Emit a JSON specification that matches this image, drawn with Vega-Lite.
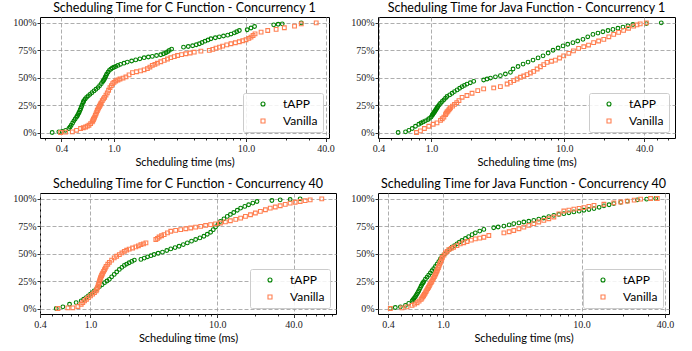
{
"$schema": "https://vega.github.io/schema/vega-lite/v6.json",
"padding": {"left": 12, "top": 1, "right": 0, "bottom": 0},
"bounds": "full",
"spacing": 9,
"datasets": {"d": [
{"p":1,"s":"tAPP","x":0.34,"y":0},{"p":1,"s":"tAPP","x":0.382,"y":0.006},{"p":1,"s":"tAPP","x":0.405,"y":0.01},{"p":1,"s":"tAPP","x":0.43,"y":0.02},{"p":1,"s":"tAPP","x":0.455,"y":0.036},{"p":1,"s":"tAPP","x":0.465,"y":0.05},{"p":1,"s":"tAPP","x":0.474,"y":0.066},{"p":1,"s":"tAPP","x":0.486,"y":0.086},{"p":1,"s":"tAPP","x":0.497,"y":0.106},{"p":1,"s":"tAPP","x":0.508,"y":0.123},{"p":1,"s":"tAPP","x":0.52,"y":0.14},{"p":1,"s":"tAPP","x":0.533,"y":0.163},{"p":1,"s":"tAPP","x":0.546,"y":0.187},{"p":1,"s":"tAPP","x":0.559,"y":0.217},{"p":1,"s":"tAPP","x":0.572,"y":0.248},{"p":1,"s":"tAPP","x":0.582,"y":0.27},{"p":1,"s":"tAPP","x":0.592,"y":0.29},{"p":1,"s":"tAPP","x":0.605,"y":0.305},{"p":1,"s":"tAPP","x":0.62,"y":0.32},{"p":1,"s":"tAPP","x":0.638,"y":0.333},{"p":1,"s":"tAPP","x":0.658,"y":0.347},{"p":1,"s":"tAPP","x":0.68,"y":0.362},{"p":1,"s":"tAPP","x":0.705,"y":0.378},{"p":1,"s":"tAPP","x":0.73,"y":0.393},{"p":1,"s":"tAPP","x":0.756,"y":0.408},{"p":1,"s":"tAPP","x":0.778,"y":0.426},{"p":1,"s":"tAPP","x":0.801,"y":0.444},{"p":1,"s":"tAPP","x":0.82,"y":0.462},{"p":1,"s":"tAPP","x":0.84,"y":0.48},{"p":1,"s":"tAPP","x":0.86,"y":0.505},{"p":1,"s":"tAPP","x":0.88,"y":0.53},{"p":1,"s":"tAPP","x":0.9,"y":0.548},{"p":1,"s":"tAPP","x":0.922,"y":0.565},{"p":1,"s":"tAPP","x":0.945,"y":0.576},{"p":1,"s":"tAPP","x":0.971,"y":0.586},{"p":1,"s":"tAPP","x":1.0,"y":0.593},{"p":1,"s":"tAPP","x":1.03,"y":0.6},{"p":1,"s":"tAPP","x":1.07,"y":0.61},{"p":1,"s":"tAPP","x":1.12,"y":0.62},{"p":1,"s":"tAPP","x":1.19,"y":0.63},{"p":1,"s":"tAPP","x":1.26,"y":0.64},{"p":1,"s":"tAPP","x":1.36,"y":0.65},{"p":1,"s":"tAPP","x":1.46,"y":0.66},{"p":1,"s":"tAPP","x":1.57,"y":0.67},{"p":1,"s":"tAPP","x":1.69,"y":0.68},{"p":1,"s":"tAPP","x":1.82,"y":0.686},{"p":1,"s":"tAPP","x":1.95,"y":0.692},{"p":1,"s":"tAPP","x":2.1,"y":0.70},{"p":1,"s":"tAPP","x":2.26,"y":0.707},{"p":1,"s":"tAPP","x":2.37,"y":0.716},{"p":1,"s":"tAPP","x":2.47,"y":0.725},{"p":1,"s":"tAPP","x":2.55,"y":0.735},{"p":1,"s":"tAPP","x":2.62,"y":0.746},{"p":1,"s":"tAPP","x":2.73,"y":0.758},{"p":1,"s":"tAPP","x":3.36,"y":0.776},{"p":1,"s":"tAPP","x":3.65,"y":0.782},{"p":1,"s":"tAPP","x":3.94,"y":0.789},{"p":1,"s":"tAPP","x":4.2,"y":0.798},{"p":1,"s":"tAPP","x":4.43,"y":0.807},{"p":1,"s":"tAPP","x":4.65,"y":0.818},{"p":1,"s":"tAPP","x":4.89,"y":0.83},{"p":1,"s":"tAPP","x":5.15,"y":0.841},{"p":1,"s":"tAPP","x":5.42,"y":0.852},{"p":1,"s":"tAPP","x":5.85,"y":0.861},{"p":1,"s":"tAPP","x":6.27,"y":0.87},{"p":1,"s":"tAPP","x":6.75,"y":0.877},{"p":1,"s":"tAPP","x":7.26,"y":0.885},{"p":1,"s":"tAPP","x":7.7,"y":0.895},{"p":1,"s":"tAPP","x":8.15,"y":0.906},{"p":1,"s":"tAPP","x":8.5,"y":0.916},{"p":1,"s":"tAPP","x":8.9,"y":0.927},{"p":1,"s":"tAPP","x":10.2,"y":0.934},{"p":1,"s":"tAPP","x":10.9,"y":0.95},{"p":1,"s":"tAPP","x":11.6,"y":0.964},{"p":1,"s":"tAPP","x":16.2,"y":0.979},{"p":1,"s":"tAPP","x":17.5,"y":0.984},{"p":1,"s":"tAPP","x":18.8,"y":0.988},{"p":1,"s":"tAPP","x":26.2,"y":0.996},
{"p":1,"s":"tAPP","x":0.527,"y":0.151},{"p":1,"s":"tAPP","x":0.54,"y":0.175},{"p":1,"s":"tAPP","x":0.553,"y":0.202},{"p":1,"s":"tAPP","x":0.566,"y":0.232},{"p":1,"s":"tAPP","x":0.587,"y":0.28},{"p":1,"s":"tAPP","x":0.83,"y":0.471},{"p":1,"s":"tAPP","x":0.85,"y":0.492},{"p":1,"s":"tAPP","x":0.87,"y":0.517},
{"p":1,"s":"Vanilla","x":0.394,"y":0},{"p":1,"s":"Vanilla","x":0.43,"y":0.003},{"p":1,"s":"Vanilla","x":0.483,"y":0.006},{"p":1,"s":"Vanilla","x":0.52,"y":0.02},{"p":1,"s":"Vanilla","x":0.558,"y":0.036},{"p":1,"s":"Vanilla","x":0.585,"y":0.043},{"p":1,"s":"Vanilla","x":0.609,"y":0.05},{"p":1,"s":"Vanilla","x":0.628,"y":0.058},{"p":1,"s":"Vanilla","x":0.646,"y":0.066},{"p":1,"s":"Vanilla","x":0.665,"y":0.08},{"p":1,"s":"Vanilla","x":0.684,"y":0.097},{"p":1,"s":"Vanilla","x":0.698,"y":0.118},{"p":1,"s":"Vanilla","x":0.713,"y":0.14},{"p":1,"s":"Vanilla","x":0.73,"y":0.17},{"p":1,"s":"Vanilla","x":0.747,"y":0.20},{"p":1,"s":"Vanilla","x":0.765,"y":0.224},{"p":1,"s":"Vanilla","x":0.783,"y":0.248},{"p":1,"s":"Vanilla","x":0.8,"y":0.27},{"p":1,"s":"Vanilla","x":0.815,"y":0.29},{"p":1,"s":"Vanilla","x":0.832,"y":0.305},{"p":1,"s":"Vanilla","x":0.849,"y":0.32},{"p":1,"s":"Vanilla","x":0.869,"y":0.34},{"p":1,"s":"Vanilla","x":0.889,"y":0.36},{"p":1,"s":"Vanilla","x":0.91,"y":0.384},{"p":1,"s":"Vanilla","x":0.932,"y":0.408},{"p":1,"s":"Vanilla","x":0.955,"y":0.426},{"p":1,"s":"Vanilla","x":0.977,"y":0.444},{"p":1,"s":"Vanilla","x":1.0,"y":0.456},{"p":1,"s":"Vanilla","x":1.03,"y":0.468},{"p":1,"s":"Vanilla","x":1.07,"y":0.477},{"p":1,"s":"Vanilla","x":1.11,"y":0.486},{"p":1,"s":"Vanilla","x":1.17,"y":0.495},{"p":1,"s":"Vanilla","x":1.23,"y":0.505},{"p":1,"s":"Vanilla","x":1.3,"y":0.524},{"p":1,"s":"Vanilla","x":1.38,"y":0.544},{"p":1,"s":"Vanilla","x":1.48,"y":0.552},{"p":1,"s":"Vanilla","x":1.59,"y":0.56},{"p":1,"s":"Vanilla","x":1.69,"y":0.57},{"p":1,"s":"Vanilla","x":1.79,"y":0.58},{"p":1,"s":"Vanilla","x":1.87,"y":0.595},{"p":1,"s":"Vanilla","x":1.95,"y":0.61},{"p":1,"s":"Vanilla","x":2.04,"y":0.62},{"p":1,"s":"Vanilla","x":2.13,"y":0.63},{"p":1,"s":"Vanilla","x":2.26,"y":0.643},{"p":1,"s":"Vanilla","x":2.4,"y":0.656},{"p":1,"s":"Vanilla","x":2.54,"y":0.668},{"p":1,"s":"Vanilla","x":2.69,"y":0.68},{"p":1,"s":"Vanilla","x":2.86,"y":0.69},{"p":1,"s":"Vanilla","x":3.03,"y":0.70},{"p":1,"s":"Vanilla","x":3.25,"y":0.708},{"p":1,"s":"Vanilla","x":3.5,"y":0.716},{"p":1,"s":"Vanilla","x":3.77,"y":0.723},{"p":1,"s":"Vanilla","x":4.05,"y":0.73},{"p":1,"s":"Vanilla","x":4.55,"y":0.74},{"p":1,"s":"Vanilla","x":5.27,"y":0.746},{"p":1,"s":"Vanilla","x":5.6,"y":0.756},{"p":1,"s":"Vanilla","x":5.92,"y":0.767},{"p":1,"s":"Vanilla","x":6.3,"y":0.776},{"p":1,"s":"Vanilla","x":6.65,"y":0.785},{"p":1,"s":"Vanilla","x":7.15,"y":0.796},{"p":1,"s":"Vanilla","x":7.69,"y":0.807},{"p":1,"s":"Vanilla","x":8.3,"y":0.816},{"p":1,"s":"Vanilla","x":8.9,"y":0.825},{"p":1,"s":"Vanilla","x":9.45,"y":0.834},{"p":1,"s":"Vanilla","x":10.0,"y":0.843},{"p":1,"s":"Vanilla","x":10.5,"y":0.855},{"p":1,"s":"Vanilla","x":10.9,"y":0.867},{"p":1,"s":"Vanilla","x":11.3,"y":0.882},{"p":1,"s":"Vanilla","x":11.7,"y":0.897},{"p":1,"s":"Vanilla","x":13.0,"y":0.912},{"p":1,"s":"Vanilla","x":14.6,"y":0.927},{"p":1,"s":"Vanilla","x":16.9,"y":0.937},{"p":1,"s":"Vanilla","x":19.5,"y":0.952},{"p":1,"s":"Vanilla","x":23.3,"y":0.967},{"p":1,"s":"Vanilla","x":26.2,"y":0.988},{"p":1,"s":"Vanilla","x":34.0,"y":0.996},
{"p":1,"s":"Vanilla","x":0.691,"y":0.107},{"p":1,"s":"Vanilla","x":0.705,"y":0.129},{"p":1,"s":"Vanilla","x":0.722,"y":0.155},{"p":1,"s":"Vanilla","x":0.739,"y":0.185},{"p":1,"s":"Vanilla","x":0.756,"y":0.212},{"p":1,"s":"Vanilla","x":0.774,"y":0.236},{"p":1,"s":"Vanilla","x":0.792,"y":0.259},
{"p":2,"s":"tAPP","x":0.561,"y":0},{"p":2,"s":"tAPP","x":0.638,"y":0.006},{"p":2,"s":"tAPP","x":0.676,"y":0.02},{"p":2,"s":"tAPP","x":0.716,"y":0.036},{"p":2,"s":"tAPP","x":0.758,"y":0.057},{"p":2,"s":"tAPP","x":0.803,"y":0.075},{"p":2,"s":"tAPP","x":0.835,"y":0.086},{"p":2,"s":"tAPP","x":0.866,"y":0.096},{"p":2,"s":"tAPP","x":0.9,"y":0.106},{"p":2,"s":"tAPP","x":0.938,"y":0.117},{"p":2,"s":"tAPP","x":0.965,"y":0.128},{"p":2,"s":"tAPP","x":0.994,"y":0.14},{"p":2,"s":"tAPP","x":1.01,"y":0.155},{"p":2,"s":"tAPP","x":1.03,"y":0.17},{"p":2,"s":"tAPP","x":1.05,"y":0.185},{"p":2,"s":"tAPP","x":1.07,"y":0.20},{"p":2,"s":"tAPP","x":1.095,"y":0.218},{"p":2,"s":"tAPP","x":1.12,"y":0.237},{"p":2,"s":"tAPP","x":1.145,"y":0.252},{"p":2,"s":"tAPP","x":1.17,"y":0.267},{"p":2,"s":"tAPP","x":1.205,"y":0.282},{"p":2,"s":"tAPP","x":1.24,"y":0.297},{"p":2,"s":"tAPP","x":1.275,"y":0.312},{"p":2,"s":"tAPP","x":1.31,"y":0.327},{"p":2,"s":"tAPP","x":1.37,"y":0.342},{"p":2,"s":"tAPP","x":1.43,"y":0.357},{"p":2,"s":"tAPP","x":1.49,"y":0.372},{"p":2,"s":"tAPP","x":1.56,"y":0.387},{"p":2,"s":"tAPP","x":1.63,"y":0.402},{"p":2,"s":"tAPP","x":1.7,"y":0.417},{"p":2,"s":"tAPP","x":1.77,"y":0.428},{"p":2,"s":"tAPP","x":1.85,"y":0.44},{"p":2,"s":"tAPP","x":1.96,"y":0.452},{"p":2,"s":"tAPP","x":2.08,"y":0.465},{"p":2,"s":"tAPP","x":2.47,"y":0.477},{"p":2,"s":"tAPP","x":2.62,"y":0.486},{"p":2,"s":"tAPP","x":2.78,"y":0.495},{"p":2,"s":"tAPP","x":3.03,"y":0.506},{"p":2,"s":"tAPP","x":3.3,"y":0.517},{"p":2,"s":"tAPP","x":3.6,"y":0.532},{"p":2,"s":"tAPP","x":3.93,"y":0.547},{"p":2,"s":"tAPP","x":4.11,"y":0.577},{"p":2,"s":"tAPP","x":4.48,"y":0.60},{"p":2,"s":"tAPP","x":4.89,"y":0.622},{"p":2,"s":"tAPP","x":5.33,"y":0.64},{"p":2,"s":"tAPP","x":5.81,"y":0.658},{"p":2,"s":"tAPP","x":6.34,"y":0.678},{"p":2,"s":"tAPP","x":6.91,"y":0.697},{"p":2,"s":"tAPP","x":7.55,"y":0.723},{"p":2,"s":"tAPP","x":8.22,"y":0.748},{"p":2,"s":"tAPP","x":8.97,"y":0.768},{"p":2,"s":"tAPP","x":9.77,"y":0.787},{"p":2,"s":"tAPP","x":10.6,"y":0.802},{"p":2,"s":"tAPP","x":11.6,"y":0.817},{"p":2,"s":"tAPP","x":12.6,"y":0.832},{"p":2,"s":"tAPP","x":13.8,"y":0.847},{"p":2,"s":"tAPP","x":15.0,"y":0.87},{"p":2,"s":"tAPP","x":16.4,"y":0.892},{"p":2,"s":"tAPP","x":17.9,"y":0.904},{"p":2,"s":"tAPP","x":19.5,"y":0.916},{"p":2,"s":"tAPP","x":21.3,"y":0.927},{"p":2,"s":"tAPP","x":23.2,"y":0.937},{"p":2,"s":"tAPP","x":25.3,"y":0.948},{"p":2,"s":"tAPP","x":27.6,"y":0.958},{"p":2,"s":"tAPP","x":30.1,"y":0.97},{"p":2,"s":"tAPP","x":32.8,"y":0.982},{"p":2,"s":"tAPP","x":41.4,"y":0.99},{"p":2,"s":"tAPP","x":53.6,"y":0.997},
{"p":2,"s":"tAPP","x":1.02,"y":0.162},{"p":2,"s":"tAPP","x":1.04,"y":0.177},{"p":2,"s":"tAPP","x":1.06,"y":0.192},{"p":2,"s":"tAPP","x":1.083,"y":0.209},{"p":2,"s":"tAPP","x":1.107,"y":0.227},
{"p":2,"s":"Vanilla","x":0.771,"y":0},{"p":2,"s":"Vanilla","x":0.826,"y":0.015},{"p":2,"s":"Vanilla","x":0.885,"y":0.036},{"p":2,"s":"Vanilla","x":0.955,"y":0.057},{"p":2,"s":"Vanilla","x":1.03,"y":0.075},{"p":2,"s":"Vanilla","x":1.1,"y":0.087},{"p":2,"s":"Vanilla","x":1.17,"y":0.11},{"p":2,"s":"Vanilla","x":1.205,"y":0.125},{"p":2,"s":"Vanilla","x":1.24,"y":0.14},{"p":2,"s":"Vanilla","x":1.275,"y":0.163},{"p":2,"s":"Vanilla","x":1.31,"y":0.186},{"p":2,"s":"Vanilla","x":1.35,"y":0.205},{"p":2,"s":"Vanilla","x":1.39,"y":0.225},{"p":2,"s":"Vanilla","x":1.44,"y":0.24},{"p":2,"s":"Vanilla","x":1.49,"y":0.255},{"p":2,"s":"Vanilla","x":1.55,"y":0.272},{"p":2,"s":"Vanilla","x":1.61,"y":0.29},{"p":2,"s":"Vanilla","x":1.7,"y":0.32},{"p":2,"s":"Vanilla","x":1.85,"y":0.336},{"p":2,"s":"Vanilla","x":2.02,"y":0.357},{"p":2,"s":"Vanilla","x":2.23,"y":0.381},{"p":2,"s":"Vanilla","x":2.47,"y":0.396},{"p":2,"s":"Vanilla","x":2.94,"y":0.405},{"p":2,"s":"Vanilla","x":3.3,"y":0.417},{"p":2,"s":"Vanilla","x":3.71,"y":0.441},{"p":2,"s":"Vanilla","x":3.93,"y":0.456},{"p":2,"s":"Vanilla","x":4.16,"y":0.471},{"p":2,"s":"Vanilla","x":4.41,"y":0.486},{"p":2,"s":"Vanilla","x":4.67,"y":0.502},{"p":2,"s":"Vanilla","x":4.95,"y":0.514},{"p":2,"s":"Vanilla","x":5.24,"y":0.526},{"p":2,"s":"Vanilla","x":5.55,"y":0.541},{"p":2,"s":"Vanilla","x":5.88,"y":0.556},{"p":2,"s":"Vanilla","x":6.24,"y":0.577},{"p":2,"s":"Vanilla","x":6.6,"y":0.598},{"p":2,"s":"Vanilla","x":7.0,"y":0.617},{"p":2,"s":"Vanilla","x":7.41,"y":0.637},{"p":2,"s":"Vanilla","x":8.0,"y":0.648},{"p":2,"s":"Vanilla","x":8.56,"y":0.658},{"p":2,"s":"Vanilla","x":9.2,"y":0.677},{"p":2,"s":"Vanilla","x":9.89,"y":0.697},{"p":2,"s":"Vanilla","x":10.8,"y":0.72},{"p":2,"s":"Vanilla","x":11.7,"y":0.742},{"p":2,"s":"Vanilla","x":12.8,"y":0.765},{"p":2,"s":"Vanilla","x":14.0,"y":0.78},{"p":2,"s":"Vanilla","x":15.2,"y":0.795},{"p":2,"s":"Vanilla","x":16.6,"y":0.817},{"p":2,"s":"Vanilla","x":18.1,"y":0.832},{"p":2,"s":"Vanilla","x":19.8,"y":0.847},{"p":2,"s":"Vanilla","x":21.6,"y":0.87},{"p":2,"s":"Vanilla","x":23.5,"y":0.892},{"p":2,"s":"Vanilla","x":25.6,"y":0.91},{"p":2,"s":"Vanilla","x":27.9,"y":0.928},{"p":2,"s":"Vanilla","x":30.4,"y":0.948},{"p":2,"s":"Vanilla","x":33.2,"y":0.967},{"p":2,"s":"Vanilla","x":35.2,"y":0.978},{"p":2,"s":"Vanilla","x":37.2,"y":0.988},{"p":2,"s":"Vanilla","x":41.4,"y":0.997},
{"p":2,"s":"Vanilla","x":1.29,"y":0.175},{"p":2,"s":"Vanilla","x":1.33,"y":0.195},{"p":2,"s":"Vanilla","x":1.37,"y":0.215},
{"p":3,"s":"tAPP","x":0.537,"y":0},{"p":3,"s":"tAPP","x":0.606,"y":0.015},{"p":3,"s":"tAPP","x":0.684,"y":0.039},{"p":3,"s":"tAPP","x":0.771,"y":0.054},{"p":3,"s":"tAPP","x":0.845,"y":0.069},{"p":3,"s":"tAPP","x":0.885,"y":0.084},{"p":3,"s":"tAPP","x":0.925,"y":0.099},{"p":3,"s":"tAPP","x":0.962,"y":0.115},{"p":3,"s":"tAPP","x":1.0,"y":0.13},{"p":3,"s":"tAPP","x":1.035,"y":0.145},{"p":3,"s":"tAPP","x":1.07,"y":0.16},{"p":3,"s":"tAPP","x":1.12,"y":0.18},{"p":3,"s":"tAPP","x":1.18,"y":0.199},{"p":3,"s":"tAPP","x":1.235,"y":0.217},{"p":3,"s":"tAPP","x":1.29,"y":0.235},{"p":3,"s":"tAPP","x":1.35,"y":0.25},{"p":3,"s":"tAPP","x":1.41,"y":0.265},{"p":3,"s":"tAPP","x":1.47,"y":0.288},{"p":3,"s":"tAPP","x":1.54,"y":0.31},{"p":3,"s":"tAPP","x":1.61,"y":0.332},{"p":3,"s":"tAPP","x":1.69,"y":0.355},{"p":3,"s":"tAPP","x":1.77,"y":0.374},{"p":3,"s":"tAPP","x":1.85,"y":0.392},{"p":3,"s":"tAPP","x":1.93,"y":0.404},{"p":3,"s":"tAPP","x":2.02,"y":0.416},{"p":3,"s":"tAPP","x":2.12,"y":0.428},{"p":3,"s":"tAPP","x":2.22,"y":0.44},{"p":3,"s":"tAPP","x":2.5,"y":0.446},{"p":3,"s":"tAPP","x":2.66,"y":0.458},{"p":3,"s":"tAPP","x":2.82,"y":0.47},{"p":3,"s":"tAPP","x":3.0,"y":0.48},{"p":3,"s":"tAPP","x":3.18,"y":0.491},{"p":3,"s":"tAPP","x":3.42,"y":0.502},{"p":3,"s":"tAPP","x":3.7,"y":0.512},{"p":3,"s":"tAPP","x":4.0,"y":0.527},{"p":3,"s":"tAPP","x":4.3,"y":0.542},{"p":3,"s":"tAPP","x":4.65,"y":0.554},{"p":3,"s":"tAPP","x":5.0,"y":0.566},{"p":3,"s":"tAPP","x":5.4,"y":0.581},{"p":3,"s":"tAPP","x":5.81,"y":0.596},{"p":3,"s":"tAPP","x":6.27,"y":0.612},{"p":3,"s":"tAPP","x":6.76,"y":0.627},{"p":3,"s":"tAPP","x":7.3,"y":0.642},{"p":3,"s":"tAPP","x":7.85,"y":0.657},{"p":3,"s":"tAPP","x":8.35,"y":0.675},{"p":3,"s":"tAPP","x":8.87,"y":0.693},{"p":3,"s":"tAPP","x":9.3,"y":0.717},{"p":3,"s":"tAPP","x":9.7,"y":0.741},{"p":3,"s":"tAPP","x":10.15,"y":0.766},{"p":3,"s":"tAPP","x":10.6,"y":0.792},{"p":3,"s":"tAPP","x":11.3,"y":0.815},{"p":3,"s":"tAPP","x":12.0,"y":0.837},{"p":3,"s":"tAPP","x":12.7,"y":0.855},{"p":3,"s":"tAPP","x":13.5,"y":0.873},{"p":3,"s":"tAPP","x":14.4,"y":0.893},{"p":3,"s":"tAPP","x":15.3,"y":0.913},{"p":3,"s":"tAPP","x":16.5,"y":0.928},{"p":3,"s":"tAPP","x":17.7,"y":0.943},{"p":3,"s":"tAPP","x":19.1,"y":0.958},{"p":3,"s":"tAPP","x":20.6,"y":0.973},{"p":3,"s":"tAPP","x":27.0,"y":0.982},{"p":3,"s":"tAPP","x":31.4,"y":0.988},{"p":3,"s":"tAPP","x":37.6,"y":0.991},{"p":3,"s":"tAPP","x":45.1,"y":0.997},
{"p":3,"s":"Vanilla","x":0.554,"y":0},{"p":3,"s":"Vanilla","x":0.664,"y":0.006},{"p":3,"s":"Vanilla","x":0.726,"y":0.006},{"p":3,"s":"Vanilla","x":0.796,"y":0.018},{"p":3,"s":"Vanilla","x":0.845,"y":0.039},{"p":3,"s":"Vanilla","x":0.87,"y":0.054},{"p":3,"s":"Vanilla","x":0.898,"y":0.069},{"p":3,"s":"Vanilla","x":0.93,"y":0.084},{"p":3,"s":"Vanilla","x":0.964,"y":0.099},{"p":3,"s":"Vanilla","x":1.0,"y":0.115},{"p":3,"s":"Vanilla","x":1.04,"y":0.13},{"p":3,"s":"Vanilla","x":1.075,"y":0.145},{"p":3,"s":"Vanilla","x":1.11,"y":0.16},{"p":3,"s":"Vanilla","x":1.135,"y":0.19},{"p":3,"s":"Vanilla","x":1.16,"y":0.22},{"p":3,"s":"Vanilla","x":1.18,"y":0.25},{"p":3,"s":"Vanilla","x":1.2,"y":0.277},{"p":3,"s":"Vanilla","x":1.225,"y":0.30},{"p":3,"s":"Vanilla","x":1.25,"y":0.322},{"p":3,"s":"Vanilla","x":1.29,"y":0.352},{"p":3,"s":"Vanilla","x":1.33,"y":0.383},{"p":3,"s":"Vanilla","x":1.37,"y":0.402},{"p":3,"s":"Vanilla","x":1.41,"y":0.42},{"p":3,"s":"Vanilla","x":1.47,"y":0.44},{"p":3,"s":"Vanilla","x":1.54,"y":0.46},{"p":3,"s":"Vanilla","x":1.61,"y":0.475},{"p":3,"s":"Vanilla","x":1.69,"y":0.49},{"p":3,"s":"Vanilla","x":1.77,"y":0.505},{"p":3,"s":"Vanilla","x":1.85,"y":0.52},{"p":3,"s":"Vanilla","x":1.93,"y":0.53},{"p":3,"s":"Vanilla","x":2.02,"y":0.54},{"p":3,"s":"Vanilla","x":2.15,"y":0.55},{"p":3,"s":"Vanilla","x":2.28,"y":0.56},{"p":3,"s":"Vanilla","x":2.39,"y":0.57},{"p":3,"s":"Vanilla","x":2.5,"y":0.58},{"p":3,"s":"Vanilla","x":2.62,"y":0.588},{"p":3,"s":"Vanilla","x":2.74,"y":0.596},{"p":3,"s":"Vanilla","x":3.28,"y":0.627},{"p":3,"s":"Vanilla","x":3.38,"y":0.638},{"p":3,"s":"Vanilla","x":3.48,"y":0.65},{"p":3,"s":"Vanilla","x":3.64,"y":0.661},{"p":3,"s":"Vanilla","x":3.81,"y":0.672},{"p":3,"s":"Vanilla","x":4.05,"y":0.687},{"p":3,"s":"Vanilla","x":4.3,"y":0.702},{"p":3,"s":"Vanilla","x":4.7,"y":0.71},{"p":3,"s":"Vanilla","x":5.15,"y":0.717},{"p":3,"s":"Vanilla","x":5.65,"y":0.725},{"p":3,"s":"Vanilla","x":6.18,"y":0.732},{"p":3,"s":"Vanilla","x":6.75,"y":0.74},{"p":3,"s":"Vanilla","x":7.4,"y":0.747},{"p":3,"s":"Vanilla","x":8.1,"y":0.755},{"p":3,"s":"Vanilla","x":8.87,"y":0.762},{"p":3,"s":"Vanilla","x":9.7,"y":0.77},{"p":3,"s":"Vanilla","x":10.6,"y":0.777},{"p":3,"s":"Vanilla","x":11.6,"y":0.787},{"p":3,"s":"Vanilla","x":12.7,"y":0.798},{"p":3,"s":"Vanilla","x":14.0,"y":0.81},{"p":3,"s":"Vanilla","x":15.3,"y":0.822},{"p":3,"s":"Vanilla","x":16.7,"y":0.837},{"p":3,"s":"Vanilla","x":18.3,"y":0.852},{"p":3,"s":"Vanilla","x":20.0,"y":0.868},{"p":3,"s":"Vanilla","x":21.9,"y":0.883},{"p":3,"s":"Vanilla","x":24.0,"y":0.898},{"p":3,"s":"Vanilla","x":26.2,"y":0.913},{"p":3,"s":"Vanilla","x":28.7,"y":0.923},{"p":3,"s":"Vanilla","x":31.4,"y":0.934},{"p":3,"s":"Vanilla","x":34.4,"y":0.946},{"p":3,"s":"Vanilla","x":37.6,"y":0.958},{"p":3,"s":"Vanilla","x":41.2,"y":0.966},{"p":3,"s":"Vanilla","x":45.1,"y":0.973},{"p":3,"s":"Vanilla","x":49.4,"y":0.981},{"p":3,"s":"Vanilla","x":54.1,"y":0.988},{"p":3,"s":"Vanilla","x":66.8,"y":0.997},
{"p":3,"s":"Vanilla","x":1.123,"y":0.175},{"p":3,"s":"Vanilla","x":1.148,"y":0.205},{"p":3,"s":"Vanilla","x":1.17,"y":0.235},{"p":3,"s":"Vanilla","x":1.19,"y":0.263},{"p":3,"s":"Vanilla","x":1.212,"y":0.288},{"p":3,"s":"Vanilla","x":1.237,"y":0.311},{"p":3,"s":"Vanilla","x":1.27,"y":0.337},{"p":3,"s":"Vanilla","x":1.31,"y":0.367},
{"p":4,"s":"tAPP","x":0.416,"y":0},{"p":4,"s":"tAPP","x":0.452,"y":0.009},{"p":4,"s":"tAPP","x":0.492,"y":0.015},{"p":4,"s":"tAPP","x":0.535,"y":0.028},{"p":4,"s":"tAPP","x":0.565,"y":0.046},{"p":4,"s":"tAPP","x":0.597,"y":0.067},{"p":4,"s":"tAPP","x":0.614,"y":0.087},{"p":4,"s":"tAPP","x":0.631,"y":0.107},{"p":4,"s":"tAPP","x":0.649,"y":0.133},{"p":4,"s":"tAPP","x":0.667,"y":0.159},{"p":4,"s":"tAPP","x":0.686,"y":0.19},{"p":4,"s":"tAPP","x":0.705,"y":0.22},{"p":4,"s":"tAPP","x":0.725,"y":0.243},{"p":4,"s":"tAPP","x":0.745,"y":0.266},{"p":4,"s":"tAPP","x":0.766,"y":0.285},{"p":4,"s":"tAPP","x":0.787,"y":0.303},{"p":4,"s":"tAPP","x":0.81,"y":0.323},{"p":4,"s":"tAPP","x":0.832,"y":0.343},{"p":4,"s":"tAPP","x":0.856,"y":0.363},{"p":4,"s":"tAPP","x":0.88,"y":0.382},{"p":4,"s":"tAPP","x":0.905,"y":0.404},{"p":4,"s":"tAPP","x":0.931,"y":0.425},{"p":4,"s":"tAPP","x":0.957,"y":0.45},{"p":4,"s":"tAPP","x":0.983,"y":0.474},{"p":4,"s":"tAPP","x":1.025,"y":0.495},{"p":4,"s":"tAPP","x":1.07,"y":0.517},{"p":4,"s":"tAPP","x":1.115,"y":0.537},{"p":4,"s":"tAPP","x":1.16,"y":0.557},{"p":4,"s":"tAPP","x":1.21,"y":0.572},{"p":4,"s":"tAPP","x":1.26,"y":0.587},{"p":4,"s":"tAPP","x":1.31,"y":0.603},{"p":4,"s":"tAPP","x":1.37,"y":0.618},{"p":4,"s":"tAPP","x":1.45,"y":0.636},{"p":4,"s":"tAPP","x":1.53,"y":0.654},{"p":4,"s":"tAPP","x":1.62,"y":0.671},{"p":4,"s":"tAPP","x":1.71,"y":0.688},{"p":4,"s":"tAPP","x":1.84,"y":0.704},{"p":4,"s":"tAPP","x":1.97,"y":0.719},{"p":4,"s":"tAPP","x":2.32,"y":0.734},{"p":4,"s":"tAPP","x":2.5,"y":0.741},{"p":4,"s":"tAPP","x":2.75,"y":0.749},{"p":4,"s":"tAPP","x":3.0,"y":0.76},{"p":4,"s":"tAPP","x":3.24,"y":0.771},{"p":4,"s":"tAPP","x":3.53,"y":0.778},{"p":4,"s":"tAPP","x":3.83,"y":0.786},{"p":4,"s":"tAPP","x":4.16,"y":0.793},{"p":4,"s":"tAPP","x":4.52,"y":0.801},{"p":4,"s":"tAPP","x":4.91,"y":0.812},{"p":4,"s":"tAPP","x":5.34,"y":0.823},{"p":4,"s":"tAPP","x":5.8,"y":0.835},{"p":4,"s":"tAPP","x":6.31,"y":0.847},{"p":4,"s":"tAPP","x":6.86,"y":0.855},{"p":4,"s":"tAPP","x":7.45,"y":0.862},{"p":4,"s":"tAPP","x":8.1,"y":0.87},{"p":4,"s":"tAPP","x":8.8,"y":0.878},{"p":4,"s":"tAPP","x":9.6,"y":0.885},{"p":4,"s":"tAPP","x":10.4,"y":0.893},{"p":4,"s":"tAPP","x":11.3,"y":0.90},{"p":4,"s":"tAPP","x":12.3,"y":0.908},{"p":4,"s":"tAPP","x":13.4,"y":0.92},{"p":4,"s":"tAPP","x":14.5,"y":0.933},{"p":4,"s":"tAPP","x":15.8,"y":0.943},{"p":4,"s":"tAPP","x":17.1,"y":0.954},{"p":4,"s":"tAPP","x":19.2,"y":0.965},{"p":4,"s":"tAPP","x":21.4,"y":0.976},{"p":4,"s":"tAPP","x":25.3,"y":0.988},{"p":4,"s":"tAPP","x":29.5,"y":0.994},{"p":4,"s":"tAPP","x":34.3,"y":1.0},
{"p":4,"s":"tAPP","x":0.605,"y":0.077},{"p":4,"s":"tAPP","x":0.622,"y":0.097},{"p":4,"s":"tAPP","x":0.64,"y":0.12},{"p":4,"s":"tAPP","x":0.658,"y":0.146},{"p":4,"s":"tAPP","x":0.676,"y":0.174},{"p":4,"s":"tAPP","x":0.695,"y":0.205},{"p":4,"s":"tAPP","x":0.715,"y":0.232},
{"p":4,"s":"Vanilla","x":0.416,"y":0},{"p":4,"s":"Vanilla","x":0.505,"y":0.006},{"p":4,"s":"Vanilla","x":0.549,"y":0.015},{"p":4,"s":"Vanilla","x":0.597,"y":0.028},{"p":4,"s":"Vanilla","x":0.622,"y":0.04},{"p":4,"s":"Vanilla","x":0.649,"y":0.052},{"p":4,"s":"Vanilla","x":0.671,"y":0.067},{"p":4,"s":"Vanilla","x":0.694,"y":0.083},{"p":4,"s":"Vanilla","x":0.713,"y":0.105},{"p":4,"s":"Vanilla","x":0.733,"y":0.128},{"p":4,"s":"Vanilla","x":0.753,"y":0.154},{"p":4,"s":"Vanilla","x":0.774,"y":0.18},{"p":4,"s":"Vanilla","x":0.796,"y":0.207},{"p":4,"s":"Vanilla","x":0.819,"y":0.235},{"p":4,"s":"Vanilla","x":0.842,"y":0.262},{"p":4,"s":"Vanilla","x":0.865,"y":0.29},{"p":4,"s":"Vanilla","x":0.885,"y":0.316},{"p":4,"s":"Vanilla","x":0.905,"y":0.343},{"p":4,"s":"Vanilla","x":0.925,"y":0.373},{"p":4,"s":"Vanilla","x":0.946,"y":0.404},{"p":4,"s":"Vanilla","x":0.967,"y":0.434},{"p":4,"s":"Vanilla","x":0.989,"y":0.465},{"p":4,"s":"Vanilla","x":1.015,"y":0.485},{"p":4,"s":"Vanilla","x":1.04,"y":0.505},{"p":4,"s":"Vanilla","x":1.07,"y":0.52},{"p":4,"s":"Vanilla","x":1.1,"y":0.535},{"p":4,"s":"Vanilla","x":1.145,"y":0.546},{"p":4,"s":"Vanilla","x":1.19,"y":0.557},{"p":4,"s":"Vanilla","x":1.26,"y":0.572},{"p":4,"s":"Vanilla","x":1.33,"y":0.587},{"p":4,"s":"Vanilla","x":1.41,"y":0.598},{"p":4,"s":"Vanilla","x":1.49,"y":0.609},{"p":4,"s":"Vanilla","x":1.6,"y":0.621},{"p":4,"s":"Vanilla","x":1.71,"y":0.633},{"p":4,"s":"Vanilla","x":1.84,"y":0.64},{"p":4,"s":"Vanilla","x":1.97,"y":0.648},{"p":4,"s":"Vanilla","x":2.14,"y":0.664},{"p":4,"s":"Vanilla","x":2.75,"y":0.688},{"p":4,"s":"Vanilla","x":3.0,"y":0.698},{"p":4,"s":"Vanilla","x":3.24,"y":0.709},{"p":4,"s":"Vanilla","x":3.53,"y":0.725},{"p":4,"s":"Vanilla","x":3.83,"y":0.74},{"p":4,"s":"Vanilla","x":4.16,"y":0.755},{"p":4,"s":"Vanilla","x":4.52,"y":0.771},{"p":4,"s":"Vanilla","x":4.91,"y":0.786},{"p":4,"s":"Vanilla","x":5.34,"y":0.801},{"p":4,"s":"Vanilla","x":5.8,"y":0.816},{"p":4,"s":"Vanilla","x":6.31,"y":0.832},{"p":4,"s":"Vanilla","x":6.86,"y":0.86},{"p":4,"s":"Vanilla","x":7.45,"y":0.886},{"p":4,"s":"Vanilla","x":8.1,"y":0.895},{"p":4,"s":"Vanilla","x":8.8,"y":0.903},{"p":4,"s":"Vanilla","x":9.6,"y":0.91},{"p":4,"s":"Vanilla","x":10.4,"y":0.917},{"p":4,"s":"Vanilla","x":11.3,"y":0.928},{"p":4,"s":"Vanilla","x":12.3,"y":0.938},{"p":4,"s":"Vanilla","x":14.5,"y":0.948},{"p":4,"s":"Vanilla","x":17.1,"y":0.96},{"p":4,"s":"Vanilla","x":19.2,"y":0.968},{"p":4,"s":"Vanilla","x":21.4,"y":0.976},{"p":4,"s":"Vanilla","x":24.0,"y":0.985},{"p":4,"s":"Vanilla","x":26.7,"y":0.994},{"p":4,"s":"Vanilla","x":31.5,"y":1.0},{"p":4,"s":"Vanilla","x":35.2,"y":1.0},
{"p":4,"s":"Vanilla","x":0.703,"y":0.094},{"p":4,"s":"Vanilla","x":0.723,"y":0.116},{"p":4,"s":"Vanilla","x":0.743,"y":0.141},{"p":4,"s":"Vanilla","x":0.763,"y":0.167},{"p":4,"s":"Vanilla","x":0.785,"y":0.193},{"p":4,"s":"Vanilla","x":0.807,"y":0.221},{"p":4,"s":"Vanilla","x":0.83,"y":0.248},{"p":4,"s":"Vanilla","x":0.853,"y":0.276},{"p":4,"s":"Vanilla","x":0.875,"y":0.303},{"p":4,"s":"Vanilla","x":0.895,"y":0.33},{"p":4,"s":"Vanilla","x":0.915,"y":0.358},{"p":4,"s":"Vanilla","x":0.935,"y":0.388},{"p":4,"s":"Vanilla","x":0.956,"y":0.419},{"p":4,"s":"Vanilla","x":0.978,"y":0.45}
]},
"data": {"name": "d"},
"resolve": {"scale": {"color": "independent", "shape": "independent"}},
"vconcat": [
{"hconcat": [
{"width": 289, "height": 121, "title": "Scheduling Time for C Function - Concurrency 1", "transform": [{"filter": "datum.p == 1"}],
"layer": [
{"mark": {"type": "point", "filled": false, "strokeWidth": 1.1, "size": 14, "opacity": 1, "clip": true},
"encoding": {
"x": {"field": "x", "type": "quantitative", "scale": {"type": "log", "domain": [0.275, 42.5], "nice": false}, "axis": {"values": [0.4, 1, 10, 40], "format": ".1f", "title": "Scheduling time (ms)"}},
"y": {"field": "y", "type": "quantitative", "scale": {"domain": [-0.05, 1.05], "nice": false, "zero": false}, "axis": {"values": [0, 0.25, 0.5, 0.75, 1], "format": ".0%", "title": null}},
"color": {"field": "s", "type": "nominal", "scale": {"domain": ["tAPP", "Vanilla"], "range": ["#008000", "#ff7f50"]}, "legend": {"title": null}},
"shape": {"field": "s", "type": "nominal", "scale": {"domain": ["tAPP", "Vanilla"], "range": ["circle", "square"]}, "legend": {"title": null}}}},
{"mark": {"type": "point", "opacity": 0},
"encoding": {"x": {"field": "x", "type": "quantitative", "axis": {"orient": "bottom", "values": [0.3, 0.5, 0.6, 0.7, 0.8, 0.9, 2, 3, 4, 5, 6, 7, 8, 9, 20, 30], "labels": false, "grid": false, "tickSize": 2, "title": null, "domain": false}}}}
],
"resolve": {"axis": {"x": "independent"}}},
{"width": 297, "height": 121, "title": "Scheduling Time for Java Function - Concurrency 1", "transform": [{"filter": "datum.p == 2"}],
"layer": [
{"mark": {"type": "point", "filled": false, "strokeWidth": 1.1, "size": 14, "opacity": 1, "clip": true},
"encoding": {
"x": {"field": "x", "type": "quantitative", "scale": {"type": "log", "domain": [0.396, 68], "nice": false}, "axis": {"values": [0.4, 1, 10, 40], "format": ".1f", "title": "Scheduling time (ms)"}},
"y": {"field": "y", "type": "quantitative", "scale": {"domain": [-0.05, 1.05], "nice": false, "zero": false}, "axis": {"values": [0, 0.25, 0.5, 0.75, 1], "format": ".0%", "title": null}},
"color": {"field": "s", "type": "nominal", "scale": {"domain": ["tAPP", "Vanilla"], "range": ["#008000", "#ff7f50"]}, "legend": {"title": null}},
"shape": {"field": "s", "type": "nominal", "scale": {"domain": ["tAPP", "Vanilla"], "range": ["circle", "square"]}, "legend": {"title": null}}}},
{"mark": {"type": "point", "opacity": 0},
"encoding": {"x": {"field": "x", "type": "quantitative", "axis": {"orient": "bottom", "values": [0.5, 0.6, 0.7, 0.8, 0.9, 2, 3, 4, 5, 6, 7, 8, 9, 20, 30, 50, 60], "labels": false, "grid": false, "tickSize": 2, "title": null, "domain": false}}}}
],
"resolve": {"axis": {"x": "independent"}}}
], "spacing": 49, "bounds": "flush", "resolve": {"scale": {"color": "independent", "shape": "independent"}}},
{"hconcat": [
{"width": 296, "height": 121, "title": "Scheduling Time for C Function - Concurrency 40", "transform": [{"filter": "datum.p == 3"}],
"layer": [
{"mark": {"type": "point", "filled": false, "strokeWidth": 1.1, "size": 14, "opacity": 1, "clip": true},
"encoding": {
"x": {"field": "x", "type": "quantitative", "scale": {"type": "log", "domain": [0.4, 86.5], "nice": false}, "axis": {"values": [0.4, 1, 10, 40], "format": ".1f", "title": "Scheduling time (ms)"}},
"y": {"field": "y", "type": "quantitative", "scale": {"domain": [-0.05, 1.05], "nice": false, "zero": false}, "axis": {"values": [0, 0.25, 0.5, 0.75, 1], "format": ".0%", "title": null}},
"color": {"field": "s", "type": "nominal", "scale": {"domain": ["tAPP", "Vanilla"], "range": ["#008000", "#ff7f50"]}, "legend": {"title": null}},
"shape": {"field": "s", "type": "nominal", "scale": {"domain": ["tAPP", "Vanilla"], "range": ["circle", "square"]}, "legend": {"title": null}}}},
{"mark": {"type": "point", "opacity": 0},
"encoding": {"x": {"field": "x", "type": "quantitative", "axis": {"orient": "bottom", "values": [0.5, 0.6, 0.7, 0.8, 0.9, 2, 3, 4, 5, 6, 7, 8, 9, 20, 30, 50, 60, 70, 80], "labels": false, "grid": false, "tickSize": 2, "title": null, "domain": false}}}}
],
"resolve": {"axis": {"x": "independent"}}},
{"width": 291, "height": 121, "title": "Scheduling Time for Java Function - Concurrency 40", "transform": [{"filter": "datum.p == 4"}],
"layer": [
{"mark": {"type": "point", "filled": false, "strokeWidth": 1.1, "size": 14, "opacity": 1, "clip": true},
"encoding": {
"x": {"field": "x", "type": "quantitative", "scale": {"type": "log", "domain": [0.339, 42.8], "nice": false}, "axis": {"values": [0.4, 1, 10, 40], "format": ".1f", "title": "Scheduling time (ms)"}},
"y": {"field": "y", "type": "quantitative", "scale": {"domain": [-0.05, 1.05], "nice": false, "zero": false}, "axis": {"values": [0, 0.25, 0.5, 0.75, 1], "format": ".0%", "title": null}},
"color": {"field": "s", "type": "nominal", "scale": {"domain": ["tAPP", "Vanilla"], "range": ["#008000", "#ff7f50"]}, "legend": {"title": null}},
"shape": {"field": "s", "type": "nominal", "scale": {"domain": ["tAPP", "Vanilla"], "range": ["circle", "square"]}, "legend": {"title": null}}}},
{"mark": {"type": "point", "opacity": 0},
"encoding": {"x": {"field": "x", "type": "quantitative", "axis": {"orient": "bottom", "values": [0.5, 0.6, 0.7, 0.8, 0.9, 2, 3, 4, 5, 6, 7, 8, 9, 20, 30], "labels": false, "grid": false, "tickSize": 2, "title": null, "domain": false}}}}
],
"resolve": {"axis": {"x": "independent"}}}
], "spacing": 42, "bounds": "flush", "resolve": {"scale": {"color": "independent", "shape": "independent"}}}
],
"config": {
"font": "Lato",
"background": "white",
"view": {"stroke": "black", "strokeWidth": 1},
"title": {"font": "Lato", "fontSize": 12.5, "fontWeight": "normal", "color": "black", "offset": 3, "anchor": "middle"},
"axis": {"labelFont": "Liberation Serif", "labelFontSize": 10, "labelColor": "#222", "titleFont": "Lato", "titleFontSize": 11, "titleFontWeight": "normal", "titleColor": "black", "tickColor": "black", "tickSize": 3.5, "tickWidth": 0.8, "domain": false, "gridColor": "#999", "gridDash": [4, 2], "gridWidth": 0.8, "labelPadding": 2, "titlePadding": 3, "labelFlush": false, "labelOverlap": false},
"axisY": {"labelPadding": 1, "tickSize": 3},
"legend": {"orient": "bottom-right", "offset": 6, "padding": 5, "strokeColor": "#cccccc", "fillColor": "rgba(255,255,255,0.85)", "cornerRadius": 2, "symbolOffset": 9, "labelOffset": 14, "labelFont": "Lato", "labelFontSize": 12, "labelColor": "black", "rowPadding": 5, "symbolStrokeWidth": 1.1, "symbolSize": 16, "symbolOpacity": 1}
}
}
